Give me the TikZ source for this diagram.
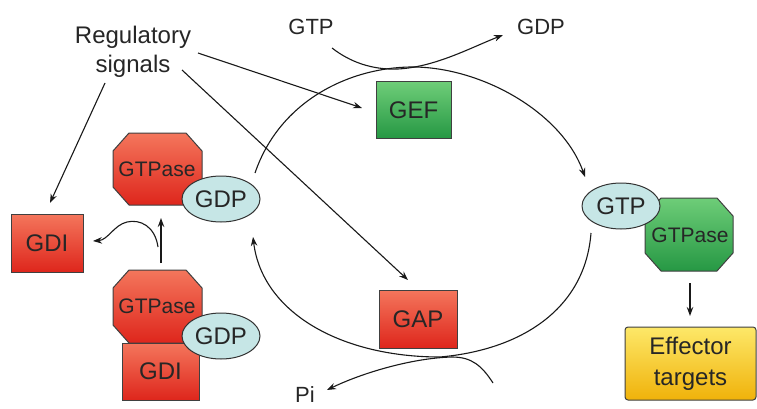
\documentclass[tikz,border=0pt]{standalone}
\usepackage{fontspec}
\setmainfont{Liberation Sans}
\usetikzlibrary{arrows.meta,shapes.geometric}
\definecolor{redL}{RGB}{244,118,92}
\definecolor{redD}{RGB}{222,38,28}
\definecolor{grnL}{RGB}{110,205,120}
\definecolor{grnD}{RGB}{38,152,68}
\definecolor{cyanF}{RGB}{198,230,230}
\definecolor{yelL}{RGB}{253,232,105}
\definecolor{yelD}{RGB}{240,178,10}
\begin{document}
\begin{tikzpicture}[x=1pt,y=-1pt,
  arr/.style={-{Stealth[length=9pt,width=6.5pt]}, line width=1.1pt, black!90},
  lbl/.style={font=\fontsize{22}{29}\selectfont, text=black!85, inner sep=0pt},
  boxlbl/.style={font=\fontsize{24}{28}\selectfont, text=black!85},
  octlbl/.style={font=\fontsize{21}{24}\selectfont, text=black!85},
  redbox/.style={rectangle, draw=black!75, line width=1pt, top color=redL, bottom color=redD, boxlbl},
  grnbox/.style={rectangle, draw=black!75, line width=1pt, top color=grnL, bottom color=grnD, boxlbl},
  redoct/.style={draw=black!75, line width=1pt, top color=redL, bottom color=redD},
  grnoct/.style={draw=black!75, line width=1pt, top color=grnL, bottom color=grnD},
  nuc/.style={ellipse, draw=black!80, line width=1pt, fill=cyanF, minimum width=78pt, minimum height=46pt, inner sep=0pt, boxlbl}]
\useasboundingbox (0,0) rectangle (757,409);
\fill[white] (0,0) rectangle (757,409);

% ---- text labels
\node[lbl, align=center, font=\fontsize{24}{29}\selectfont] (reg) at (133,52) {Regulatory\\signals};
\node[lbl] (gtpin) at (311,27) {GTP};
\node[lbl] (gdpout) at (541,27) {GDP};
\node[lbl, anchor=north] (pi) at (305,386) {Pi};

% ---- boxes
\node[grnbox, minimum width=75pt, minimum height=56pt] (gef) at (413.5,110) {GEF};
\node[redbox, minimum width=78pt, minimum height=58pt] (gap) at (418,319) {GAP};
\node[redbox, minimum width=72pt, minimum height=58pt] (gdi) at (47,243) {GDI};
\node[rectangle, draw=black!75, line width=1pt, top color=yelL, bottom color=yelD, rounded corners=3pt,
      minimum width=131pt, minimum height=73pt, align=center, text=black!85, font=\fontsize{24}{31}\selectfont] (eff) at (690.5,363.5) {Effector\\targets};

% ---- top-left GTPase-GDP
\path[redoct] (129,133) -- (186,133) -- (202,151) -- (202,187) -- (186,205) -- (129,205) -- (113,187) -- (113,151) -- cycle;
\node[octlbl] (gtpase1) at (157,169) {GTPase};
\node[nuc] (gdp1) at (221,199) {GDP};

% ---- bottom GDI complex
\node[redbox, minimum width=77pt, minimum height=57pt] (gdi2) at (160.5,371.5) {GDI};
\path[redoct] (129,270) -- (186,270) -- (202,288) -- (202,325) -- (186,343) -- (129,343) -- (113,325) -- (113,288) -- cycle;
\node[octlbl] (gtpase2) at (157,306) {GTPase};
\node[nuc] (gdp2) at (221,336) {GDP};

% ---- right GTPase-GTP
\path[grnoct] (661,198) -- (717,198) -- (733,216) -- (733,253) -- (717,271) -- (661,271) -- (645,253) -- (645,216) -- cycle;
\node[octlbl] (gtpase3) at (690,235) {GTPase};
\node[nuc] (gtp3) at (621,206) {GTP};

% ---- coordinates
\coordinate (s1) at (105,83);
\coordinate (e1) at (50,203);
\coordinate (s2) at (182,70);
\coordinate (e2) at (408,280);
\coordinate (s3) at (198,53);
\coordinate (e3) at (362,108);
\coordinate (topA) at (255,173);
\coordinate (topM) at (410,67);
\coordinate (topE) at (585,177);
\coordinate (gtpS) at (332,48);
\coordinate (gtpM) at (398,69);
\coordinate (gdpE) at (503,35);
\coordinate (botA) at (591,233);
\coordinate (botM) at (440,357);
\coordinate (botE) at (253,237);
\coordinate (piS) at (493,383);
\coordinate (piM) at (452,357);
\coordinate (piE) at (327,390);
\coordinate (vS) at (161,263);
\coordinate (vE) at (161,218);
\coordinate (bS) at (158,247);
\coordinate (bM) at (127,222);
\coordinate (bE) at (93,241);
\coordinate (effS) at (690,283);
\coordinate (effE) at (690,316);

% ---- regulatory arrows
\draw[arr] (s1) -- (e1);
\draw[arr] (s2) -- (e2);
\draw[arr] (s3) -- (e3);

% ---- cycle
\draw[arr] (topA) .. controls (280,100) and (350,68) .. (topM) .. controls (480,66) and (562,112) .. (topE);
\draw[arr] (gtpS) .. controls (350,62) and (372,70) .. (gtpM) .. controls (435,67) and (470,48) .. (gdpE);
\draw[arr] (botA) .. controls (585,310) and (520,350) .. (botM) .. controls (340,357) and (262,312) .. (botE);
\draw[arr] (piS) .. controls (482,366) and (472,357) .. (piM) .. controls (412,358) and (362,373) .. (piE);

% ---- left branch
\draw[arr] (vS) -- (vE);
\draw[arr] (bS) .. controls (155,226) and (140,219) .. (bM) .. controls (114,225) and (108,240) .. (bE);

% ---- effector
\draw[arr] (effS) -- (effE);
\end{tikzpicture}
\end{document}
